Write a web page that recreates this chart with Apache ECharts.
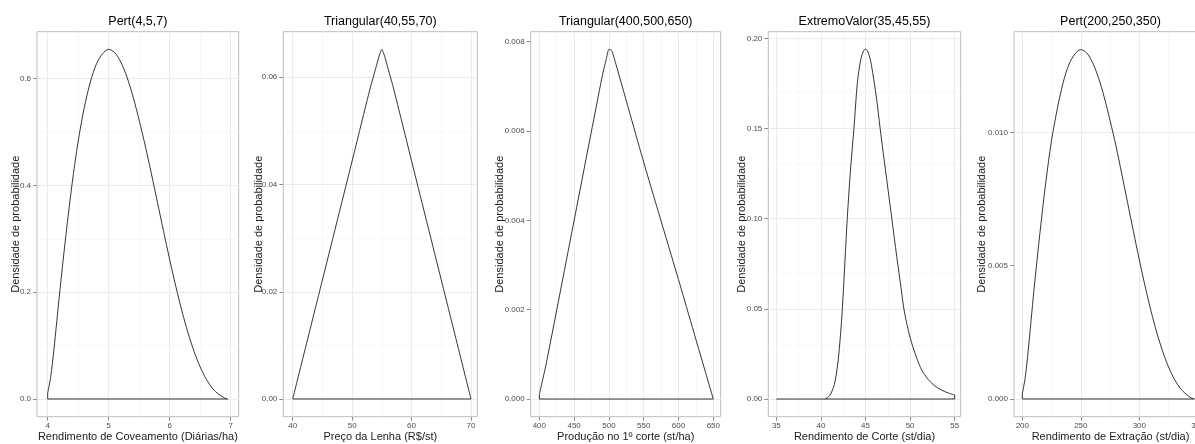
<!DOCTYPE html>
<html>
<head>
<meta charset="utf-8">
<script src="https://cdn.jsdelivr.net/npm/echarts@6/dist/echarts.min.js"></script>
<style>
html,body{margin:0;padding:0;background:#fff;}
#c{width:1195px;height:444px;}
</style>
</head>
<body>
<div id="c"></div>
<script>
// ---------- DATA ----------
const titles = ['Pert(4,5,7)', 'Triangular(40,55,70)', 'Triangular(400,500,650)', 'ExtremoValor(35,45,55)', 'Pert(200,250,350)'];
const xTitles = ['Rendimento de Coveamento (Diárias/ha)', 'Preço da Lenha (R$/st)', 'Produção no 1º corte (st/ha)', 'Rendimento de Corte (st/dia)', 'Rendimento de Extração (st/dia)'];
const yTitle = 'Densidade de probabilidade';

// Panel 1: Pert(4,5,7)
const pert1X = [4.0, 4.05, 4.1, 4.2, 4.3, 4.4, 4.5, 4.6, 4.7, 4.8, 4.9, 5.0, 5.1, 5.2, 5.3, 5.4, 5.5, 5.6, 5.7, 5.8, 5.9, 6.0, 6.1, 6.2, 6.3, 6.4, 6.5, 6.6, 6.7, 6.8, 6.9, 6.95];
const pert1Y = [0.011, 0.042, 0.09, 0.203, 0.308, 0.403, 0.483, 0.546, 0.594, 0.628, 0.647, 0.655, 0.649, 0.631, 0.603, 0.566, 0.522, 0.474, 0.422, 0.368, 0.314, 0.261, 0.211, 0.165, 0.124, 0.089, 0.060, 0.037, 0.020, 0.009, 0.002, 0.0];
const pert1EdgeX = [4.0, 4.0, 6.95];
const pert1EdgeY = [0.011, 0.0, 0.0];

// Panel 2: Triangular(40,55,70)
const tri1X = [40, 45, 50, 53, 54, 54.5, 55, 55.5, 56, 57, 60, 65, 70];
const tri1Y = [0.0, 0.0222, 0.0444, 0.0578, 0.0618, 0.0638, 0.0652, 0.0638, 0.0618, 0.0578, 0.0444, 0.0222, 0.0];
const tri1EdgeX = [40, 70];
const tri1EdgeY = [0.0, 0.0];

// Panel 3: Triangular(400,500,650)
const tri2X = [400, 410, 450, 490, 496, 500, 504, 510, 550, 600, 640, 650];
const tri2Y = [0.0001, 0.0008, 0.0040, 0.0072, 0.0076, 0.00783, 0.0078, 0.0075, 0.0053, 0.00267, 0.00053, 0.0];
const tri2EdgeX = [400, 400, 650];
const tri2EdgeY = [0.0001, 0.0, 0.0];

// Panel 4: ExtremoValor(35,45,55)
const ev1X = [40.5, 41.0, 41.5, 41.9, 42.2, 42.4, 42.7, 42.95, 43.3, 43.7, 44.1, 44.5, 44.8, 45.0, 45.2, 45.5, 45.8, 46.2, 46.64, 47.0, 47.5, 47.95, 48.5, 49.0, 49.3, 49.8, 50.3, 50.8, 51.3, 52.0, 52.7, 53.5, 54.3, 55.0];
const ev1Y = [0.0, 0.002, 0.008, 0.020, 0.036, 0.050, 0.077, 0.100, 0.126, 0.150, 0.176, 0.189, 0.1932, 0.194, 0.1932, 0.189, 0.181, 0.168, 0.150, 0.136, 0.117, 0.100, 0.079, 0.061, 0.050, 0.038, 0.029, 0.022, 0.016, 0.011, 0.0075, 0.005, 0.0033, 0.0022];
const ev1EdgeX = [35, 55, 55];
const ev1EdgeY = [0.0, 0.0, 0.0022];

// Panel 5: Pert(200,250,350)
const pert2X = [200, 202.5, 205, 210, 215, 220, 225, 230, 235, 240, 245, 250, 255, 260, 265, 270, 275, 280, 285, 290, 295, 300, 305, 310, 315, 320, 325, 330, 335, 340, 344, 347];
const pert2Y = [0.0002, 0.0008, 0.0018, 0.0041, 0.0062, 0.0081, 0.0097, 0.0109, 0.01188, 0.01256, 0.01294, 0.0131, 0.01298, 0.01262, 0.01206, 0.01132, 0.01044, 0.0095, 0.00844, 0.00736, 0.00628, 0.00522, 0.00422, 0.0033, 0.00248, 0.00178, 0.0012, 0.00074, 0.0004, 0.00018, 0.00005, 0.0];
const pert2EdgeX = [200, 200, 347];
const pert2EdgeY = [0.0002, 0.0, 0.0];

// Tick values
const xTicks = [[4, 5, 6, 7], [40, 50, 60, 70], [400, 450, 500, 550, 600, 650], [35, 40, 45, 50, 55], [200, 250, 300, 350]];
const yTicks = [[0, 0.2, 0.4, 0.6], [0, 0.02, 0.04, 0.06], [0, 0.002, 0.004, 0.006, 0.008], [0, 0.05, 0.10, 0.15, 0.20], [0, 0.005, 0.010]];
const xMinor = [[4.5, 5.5, 6.5], [45, 55, 65], [425, 475, 525, 575, 625], [37.5, 42.5, 47.5, 52.5], [225, 275, 325]];
const yMinor = [[0.1, 0.3, 0.5], [0.01, 0.03, 0.05], [0.001, 0.003, 0.005, 0.007], [0.025, 0.075, 0.125, 0.175], [0.0025, 0.0075, 0.0125]];
const yDecimals = [1, 2, 3, 2, 3];

const curvesX = [pert1X, tri1X, tri2X, ev1X, pert2X];
const curvesY = [pert1Y, tri1Y, tri2Y, ev1Y, pert2Y];
const edgesX = [pert1EdgeX, tri1EdgeX, tri2EdgeX, ev1EdgeX, pert2EdgeX];
const edgesY = [pert1EdgeY, tri1EdgeY, tri2EdgeY, ev1EdgeY, pert2EdgeY];

// ---------- LAYOUT ----------
const layout = [
  {left: 37,     width: 201.7, xMin: 3.825, xMax: 7.131,  yMin: -0.03316,   yMax: 0.6881,   gap: 15.5, smooth: 0.3},
  {left: 283.3,  width: 194,   xMin: 38.42, xMax: 71.06,  yMin: -0.003301,  yMax: 0.0685,   gap: 18.5, smooth: 0.2},
  {left: 530.7,  width: 190,   xMin: 387.6, xMax: 660.6,  yMin: -0.0003963, yMax: 0.008224, gap: 25,   smooth: 0.2},
  {left: 768.3,  width: 192.4, xMin: 34.1,  xMax: 55.67,  yMin: -0.009814,  yMax: 0.20366,  gap: 21.3, smooth: 0.3},
  {left: 1014,   width: 193,   xMin: 192.9, xMax: 357.86, yMin: -0.0006637, yMax: 0.013772, gap: 26.5, smooth: 0.3}
];
const TOP = 31.7, HEIGHT = 385;
const FONT = "'Liberation Sans', Arial, Helvetica, sans-serif";

const grids = [], xAxes = [], yAxes = [], series = [], titleArr = [];
const gridMaj = {color: '#EBEBEB', width: 1, type: 'solid'};
const gridMin = {color: '#F5F5F5', width: 0.7, type: 'solid'};

layout.forEach((L, i) => {
  grids.push({
    left: L.left, width: L.width, top: TOP, height: HEIGHT,
    show: true, borderColor: '#BDBDBD', borderWidth: 1, backgroundColor: '#ffffff',
    containLabel: false, outerBoundsMode: 'none'
  });
  titleArr.push({
    text: titles[i], left: L.left + L.width / 2, top: 15, textAlign: 'center', padding: 0,
    textStyle: {fontFamily: FONT, fontSize: 12.5, fontWeight: 'normal', color: '#000'}
  });
  xAxes.push({
    type: 'value', gridIndex: i, min: L.xMin, max: L.xMax, position: 'bottom',
    axisLine: {show: false, onZero: false},
    splitLine: {show: false},
    axisTick: {show: true, length: 4, customValues: xTicks[i], lineStyle: {color: '#8C8C8C', width: 1}},
    axisLabel: {customValues: xTicks[i], margin: 5, fontSize: 8, color: '#4D4D4D', fontFamily: FONT,
      formatter: v => String(v)},
    name: xTitles[i], nameLocation: 'middle', nameGap: 15, nameMoveOverlap: false,
    nameTextStyle: {fontFamily: FONT, fontSize: 11, color: '#222'}
  });
  const dec = yDecimals[i];
  yAxes.push({
    type: 'value', gridIndex: i, min: L.yMin, max: L.yMax, position: 'left',
    axisLine: {show: false, onZero: false},
    splitLine: {show: false},
    axisTick: {show: true, length: 4, customValues: yTicks[i], lineStyle: {color: '#8C8C8C', width: 1}},
    axisLabel: {customValues: yTicks[i], margin: 6, fontSize: 8, color: '#4D4D4D', fontFamily: FONT,
      formatter: v => Number(v).toFixed(dec)},
    name: yTitle, nameLocation: 'middle', nameGap: L.gap, nameMoveOverlap: false,
    nameTextStyle: {fontFamily: FONT, fontSize: 11, color: '#222'}
  });
  // background grid lines (minor then major)
  const ml = [];
  xMinor[i].forEach(v => ml.push({xAxis: v, lineStyle: gridMin}));
  yMinor[i].forEach(v => ml.push({yAxis: v, lineStyle: gridMin}));
  xTicks[i].forEach(v => ml.push({xAxis: v, lineStyle: gridMaj}));
  yTicks[i].forEach(v => ml.push({yAxis: v, lineStyle: gridMaj}));
  series.push({
    type: 'line', xAxisIndex: i, yAxisIndex: i, z: 1, silent: true,
    data: [[L.xMin, 0]], showSymbol: false, symbol: 'none', lineStyle: {opacity: 0},
    markLine: {silent: true, symbol: ['none', 'none'], label: {show: false}, animation: false, data: ml}
  });
  // density curve
  series.push({
    type: 'line', xAxisIndex: i, yAxisIndex: i, z: 5, silent: true,
    data: curvesX[i].map((x, k) => [x, curvesY[i][k]]),
    showSymbol: false, symbol: 'none', smooth: L.smooth,
    lineStyle: {color: '#1E1E1E', width: 0.9}
  });
  // closing edges / baseline
  series.push({
    type: 'line', xAxisIndex: i, yAxisIndex: i, z: 5, silent: true,
    data: edgesX[i].map((x, k) => [x, edgesY[i][k]]),
    showSymbol: false, symbol: 'none',
    lineStyle: {color: '#1E1E1E', width: 0.9}
  });
});

const chart = echarts.init(document.getElementById('c'), null, {renderer: 'canvas'});
chart.setOption({
  animation: false,
  backgroundColor: '#ffffff',
  title: titleArr,
  grid: grids,
  xAxis: xAxes,
  yAxis: yAxes,
  series: series
});
</script>
</body>
</html>
